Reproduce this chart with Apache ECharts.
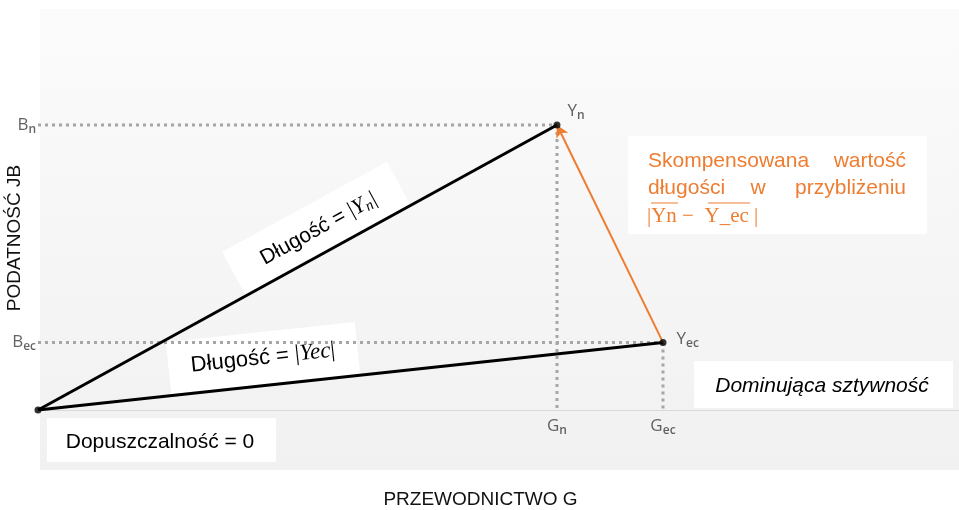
<!DOCTYPE html>
<html><head><meta charset="utf-8">
<script src="https://cdn.jsdelivr.net/npm/echarts@6/dist/echarts.min.js"></script>
<style>html,body{margin:0;padding:0;background:#fff}#c{width:959px;height:510px}</style>
</head><body><div id="c"></div>
<script>
// ---- data ----
const xMax = 100;
const yMax = 100;
const pointNames = ['Yn', 'Yec'];
const gValues = [56.35, 67.86];   // conductance G of the points
const bValues = [71.25, 16.9];    // susceptance B of the points
const gTickLabels = ['G_n', 'G_ec'];
const bTickLabels = ['B_n', 'B_ec'];
const xAxisTitle = 'PRZEWODNICTWO G';
const yAxisTitle = 'PODATNOŚĆ JB';

const BLACK = '#000000', ORANGE = '#ED7D31', GUIDE = '#a6a6a6', LBL = '#3b3b3b';
const sansF = 'Liberation Sans, Arial, sans-serif';
const lblF = '"Open Sans", "Noto Sans", sans-serif';
const mathF = '"Liberation Serif", "DejaVu Serif", serif';

function subRich(size){
  return {
    m:{fontSize:size, fontFamily:lblF, color:LBL, lineHeight:size+2},
    s:{fontSize:Math.round(size*0.7), fontFamily:lblF, color:LBL, padding:[Math.round(size*0.5),0,0,0], fontWeight:600}
  };
}
function subFmt(t){ const p=t.split('_'); return '{m|'+p[0][0]+'}{s|'+(p[1]||p[0].slice(1))+'}'; }

const series = [];
// guides (dotted)
for (let i=0;i<gValues.length;i++){
  series.push({type:'line', data:[[0,bValues[i]],[gValues[i],bValues[i]]], symbol:'none', silent:true,
    lineStyle:{color:GUIDE, width:3, type:[3,4]}, z:1});
  series.push({type:'line', data:[[gValues[i],bValues[i]],[gValues[i],0]], symbol:'none', silent:true,
    lineStyle:{color:GUIDE, width:3, type:[3,4]}, z:1});
}
// vectors from origin
for (let i=0;i<gValues.length;i++){
  series.push({type:'line', data:[[0,0],[gValues[i],bValues[i]]], symbol:'none',
    lineStyle:{color:BLACK, width:3}, z:3});
}
// orange arrow Yec -> Yn
series.push({type:'line', data:[], z:4,
  markLine:{silent:true, symbol:['none','arrow'], symbolSize:[10,12], label:{show:false},
    lineStyle:{color:ORANGE, width:2, type:'solid'},
    data:[[{coord:[gValues[1],bValues[1]]},{coord:[gValues[0],bValues[0]]}]]}});
// points
const pts = {type:'scatter', symbolSize:7, itemStyle:{color:BLACK}, z:5, clip:false,
  data:[[0,0]].concat(gValues.map((g,i)=>({value:[g,bValues[i]], name:pointNames[i]}))),
  label:{show:true, position:'right', formatter:p=>p.name?subFmt(p.name):'', rich:subRich(17)}};
pts.data[1].label = {offset:[2,-14]};
pts.data[2].label = {offset:[5,-3]};
series.push(pts);
// tick labels
series.push({type:'scatter', symbolSize:0, clip:false, silent:true,
  data:gValues.map((g,i)=>({value:[g,0], name:gTickLabels[i]})),
  label:{show:true, position:'bottom', distance:6, formatter:p=>subFmt(p.name), rich:subRich(17)}});
series.push({type:'scatter', symbolSize:0, clip:false, silent:true,
  data:bValues.map((b,i)=>({value:[0,b], name:bTickLabels[i]})),
  label:{show:true, position:'left', distance:2, formatter:p=>subFmt(p.name), rich:subRich(17)}});

function box(cx,cy,w,h,rotDeg,children){
  return {type:'group', x:cx, y:cy, rotation:rotDeg*Math.PI/180, children:[
    {type:'rect', shape:{x:-w/2,y:-h/2,width:w,height:h}, style:{fill:'#ffffff'}}].concat(children)};
}
const graphics = [
  {type:'rect', z:-10, shape:{x:40,y:9,width:919,height:461},
   style:{fill:new echarts.graphic.LinearGradient(0,0,0,1,[{offset:0,color:'#fbfbfb'},{offset:1,color:'#f1f1f1'}])}},
  // Długość = |Yn|
  box(316,228,188,48,28.7,[{type:'text', x:2, y:2, style:{align:'center', verticalAlign:'middle',
    text:'{a|Długość = }{b||}{c|Y}{d|n}{b||}',
    rich:{a:{fontSize:21,fontFamily:sansF,fill:'#000'}, b:{fontSize:22,fontFamily:mathF,fill:'#000'},
          c:{fontSize:22,fontFamily:mathF,fontStyle:'italic',fill:'#000'},
          d:{fontSize:15,fontFamily:mathF,fontStyle:'italic',fill:'#000',padding:[9,1,0,0]}}}}]),
  // Długość = |Yec|
  box(263,358,190,52,6.1,[{type:'text', x:0, y:0, style:{align:'center', verticalAlign:'middle',
    text:'{a|Długość = }{b||}{c|Yec}{b||}',
    rich:{a:{fontSize:22,fontFamily:sansF,fill:'#000'}, b:{fontSize:23,fontFamily:mathF,fill:'#000'},
          c:{fontSize:23,fontFamily:mathF,fontStyle:'italic',fill:'#000'}}}}]),
  // Dominująca sztywność
  {type:'rect', shape:{x:694,y:361,width:259,height:47}, style:{fill:'#fff'}},
  {type:'text', x:822, y:386, style:{text:'Dominująca sztywność', align:'center', verticalAlign:'middle',
    font:'italic 21px '+sansF, fill:'#000'}},
  // Dopuszczalność = 0
  {type:'rect', shape:{x:47,y:418,width:229,height:44}, style:{fill:'#fff'}},
  {type:'text', x:160, y:442, style:{text:'Dopuszczalność = 0', align:'center', verticalAlign:'middle',
    font:'21px '+sansF, fill:'#000'}},
  // orange annotation
  {type:'rect', shape:{x:628,y:136,width:299,height:98}, style:{fill:'#fff'}},
  {type:'text', x:648, y:161, style:{text:'Skompensowana', align:'left', verticalAlign:'middle', font:'21px '+sansF, fill:ORANGE}},
  {type:'text', x:906, y:161, style:{text:'wartość', align:'right', verticalAlign:'middle', font:'21px '+sansF, fill:ORANGE}},
  {type:'text', x:648, y:188, style:{text:'długości', align:'left', verticalAlign:'middle', font:'21px '+sansF, fill:ORANGE}},
  {type:'text', x:758, y:188, style:{text:'w', align:'center', verticalAlign:'middle', font:'21px '+sansF, fill:ORANGE}},
  {type:'text', x:906, y:188, style:{text:'przybliżeniu', align:'right', verticalAlign:'middle', font:'21px '+sansF, fill:ORANGE}},
  {type:'text', x:647, y:216, style:{text:'|Yn −  Y_ec |', align:'left', verticalAlign:'middle', font:'21px '+mathF, fill:ORANGE}},
  {type:'line', shape:{x1:651,y1:203,x2:678,y2:203}, style:{stroke:ORANGE, lineWidth:1}},
  {type:'line', shape:{x1:708,y1:203,x2:750,y2:203}, style:{stroke:ORANGE, lineWidth:1}}
];

const chart = echarts.init(document.getElementById('c'), null, {renderer:'canvas'});
chart.setOption({
  animation:false,
  backgroundColor:'#ffffff',
  grid:{left:38, right:0, top:10, bottom:100, containLabel:false, outerBoundsMode:'none'},
  xAxis:{type:'value', min:0, max:xMax, axisLabel:{show:false}, axisTick:{show:false}, splitLine:{show:false},
    axisLine:{show:true, lineStyle:{color:'#d9d9d9', width:1}},
    name:xAxisTitle, nameLocation:'middle', nameGap:80,
    nameTextStyle:{fontFamily:sansF, fontSize:19, color:'#111', padding:[0,36,0,0]}},
  yAxis:{type:'value', min:0, max:yMax, axisLabel:{show:false}, axisTick:{show:false}, splitLine:{show:false},
    axisLine:{show:false},
    name:yAxisTitle, nameLocation:'middle', nameGap:14,
    nameTextStyle:{fontFamily:sansF, fontSize:19, color:'#111', padding:[0,56,0,0]}},
  graphic:graphics,
  series:series
});
</script></body></html>
